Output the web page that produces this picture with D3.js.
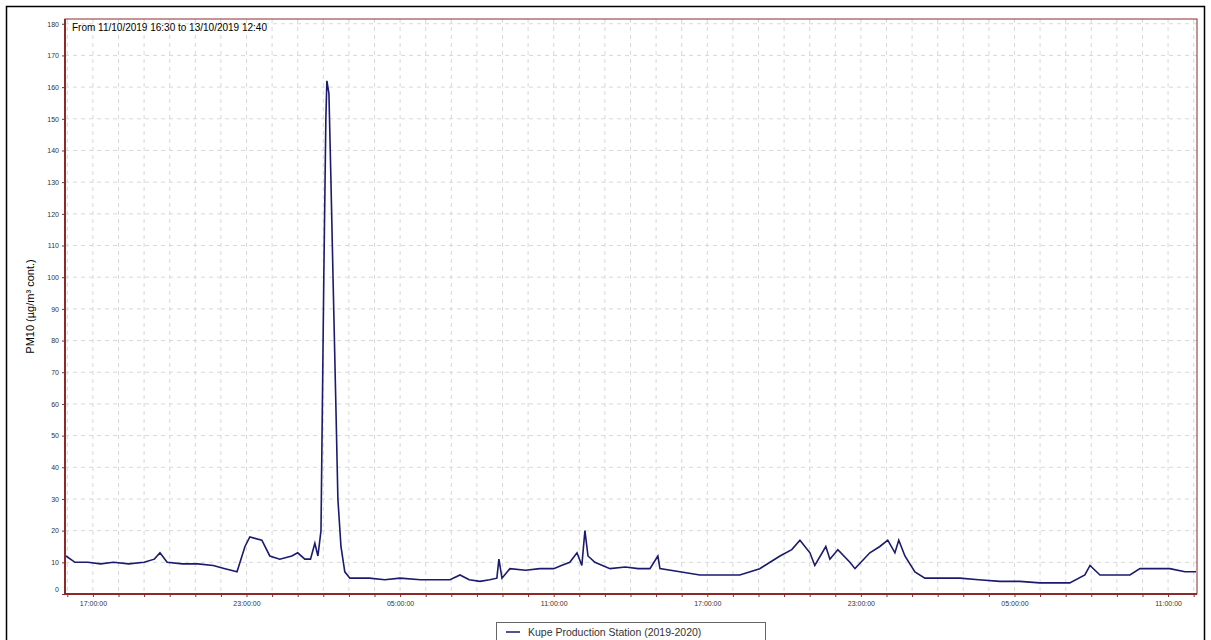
<!DOCTYPE html>
<html><head><meta charset="utf-8">
<script src="https://cdn.jsdelivr.net/npm/d3@7"></script>
<style>body{margin:0;background:#fff;font-family:"Liberation Sans",Arial,sans-serif}</style>
</head><body>
<svg id="chart" width="1211" height="640"></svg>
<script>
// hours since 11/10/2019 00:00
const hours = [15.95,16.3,16.8,17.3,17.8,18.4,19.0,19.4,19.62,19.9,20.5,21.1,21.7,22.16,22.4,22.63,22.94,23.13,23.6,23.91,24.3,24.77,25.0,25.28,25.5,25.67,25.79,25.91,26.02,26.1,26.14,26.22,26.3,26.38,26.49,26.57,26.69,26.84,27.04,27.8,28.4,29.0,29.8,30.4,30.95,31.34,31.7,32.12,32.5,32.78,32.86,32.98,33.29,33.9,34.46,35.0,35.3,35.63,35.91,36.1,36.22,36.34,36.61,37.2,37.8,38.3,38.76,39.07,39.15,39.93,40.71,41.5,42.27,43.05,43.84,44.3,44.62,45.01,45.2,45.63,45.79,46.1,46.57,46.77,47.35,47.74,48.05,48.33,48.48,48.72,49.11,49.5,50.2,50.87,51.6,52.43,53.21,53.99,54.6,55.16,55.75,55.95,56.34,56.73,57.51,57.9,58.5,59.07,59.66,60.09]
const pm10 = [12,10,10,9.5,10,9.5,10,11,13,10,9.5,9.5,9,8,7.5,7,15,18,17,12,11,12,13,11,11,16,12,20,100,150,162,158,130,100,60,30,15,7,5,5,4.5,5,4.5,4.5,4.5,6,4.5,4,4.5,5,11,5,8,7.5,8,8,9,10,13,9,20,12,10,8,8.5,8,8,12,8,7,6,6,6,8,12,14,17,13,9,15,11,14,10,8,13,15,17,13,17,12,7,5,5,5,4.5,4,4,3.5,3.5,3.5,6,9,6,6,6,8,8,8,7,7]
const tickHours = [17,23,29,35,41,47,53,59]
const yTicks = d3.range(0, 181, 10)
const title = "From 11/10/2019 16:30 to 13/10/2019 12:40"
const seriesName = "Kupe Production Station (2019-2020)"

const svg = d3.select("#chart")
const L = 65, R = 1197, T = 19, B = 594
const axisCol = "#8b2a2a"

svg.append("rect").attr("x", 6.5).attr("y", 6.5).attr("width", 1198).attr("height", 640)
  .attr("fill", "none").attr("stroke", "#000").attr("stroke-width", 1.5)

const x = d3.scaleLinear().domain([15.91, 60.13]).range([L, R])
const y = d3.scaleLinear().domain([0, 181.5]).range([B, T])

// grid
const grid = svg.append("g").attr("stroke", "#d8d8d8").attr("stroke-dasharray", "4,4").attr("stroke-width", 1)
grid.selectAll(".h").data(yTicks.slice(1)).join("line")
  .attr("x1", L).attr("x2", R).attr("y1", d => y(d)).attr("y2", d => y(d))
grid.selectAll(".v").data(d3.range(16, 61)).join("line")
  .attr("y1", T).attr("y2", B).attr("x1", d => x(d)).attr("x2", d => x(d))

// plot border
svg.append("rect").attr("x", L).attr("y", T).attr("width", R - L).attr("height", B - T)
  .attr("fill", "none").attr("stroke", axisCol).attr("stroke-width", 1)
svg.append("line").attr("x1", L).attr("x2", R).attr("y1", B).attr("y2", B).attr("stroke", axisCol).attr("stroke-width", 2)
svg.append("line").attr("x1", L).attr("x2", L).attr("y1", T).attr("y2", B).attr("stroke", axisCol).attr("stroke-width", 2)

// axes
const fmt = h => String(Math.round(h) % 24).padStart(2, "0") + ":00:00"
const xAxis = svg.append("g").attr("transform", `translate(0,${B})`)
  .call(d3.axisBottom(x).tickValues(d3.range(16, 61)).tickSize(3).tickFormat(d => tickHours.includes(d) ? fmt(d) : ""))
xAxis.select(".domain").remove()
xAxis.selectAll("line").attr("stroke", axisCol)
xAxis.selectAll("text").attr("font-size", 7).attr("fill", "#333").attr("dy", "0.9em")

const yAxis = svg.append("g").attr("transform", `translate(${L},0)`)
  .call(d3.axisLeft(y).tickValues(yTicks).tickSize(3))
yAxis.select(".domain").remove()
yAxis.selectAll("line").attr("stroke", axisCol)
yAxis.selectAll("text").attr("font-size", 7).attr("fill", "#333")
  .attr("dy", d => d === 0 ? "-0.3em" : "0.32em")

svg.append("text").attr("transform", `translate(34,${(T + B) / 2}) rotate(-90)`)
  .attr("text-anchor", "middle").attr("font-size", 11).text("PM10 (µg/m³ cont.)")

svg.append("text").attr("x", 72).attr("y", 31).attr("font-size", 10).text(title)

// line
svg.append("path").datum(hours.map((h, i) => [h, pm10[i]]))
  .attr("fill", "none").attr("stroke", "#1a1a6e").attr("stroke-width", 1.6)
  .attr("d", d3.line().x(d => x(d[0])).y(d => y(d[1])))

// legend
const lg = svg.append("g").attr("transform", "translate(496,622)")
lg.append("rect").attr("x", 0.5).attr("y", 0.5).attr("width", 269).attr("height", 22)
  .attr("fill", "#fff").attr("stroke", "#666")
lg.append("line").attr("x1", 10).attr("x2", 24).attr("y1", 10).attr("y2", 10).attr("stroke", "#1a1a6e").attr("stroke-width", 1.5)
lg.append("text").attr("x", 32).attr("y", 14).attr("font-size", 10.5).attr("fill", "#333").text(seriesName)
</script>
</body></html>
